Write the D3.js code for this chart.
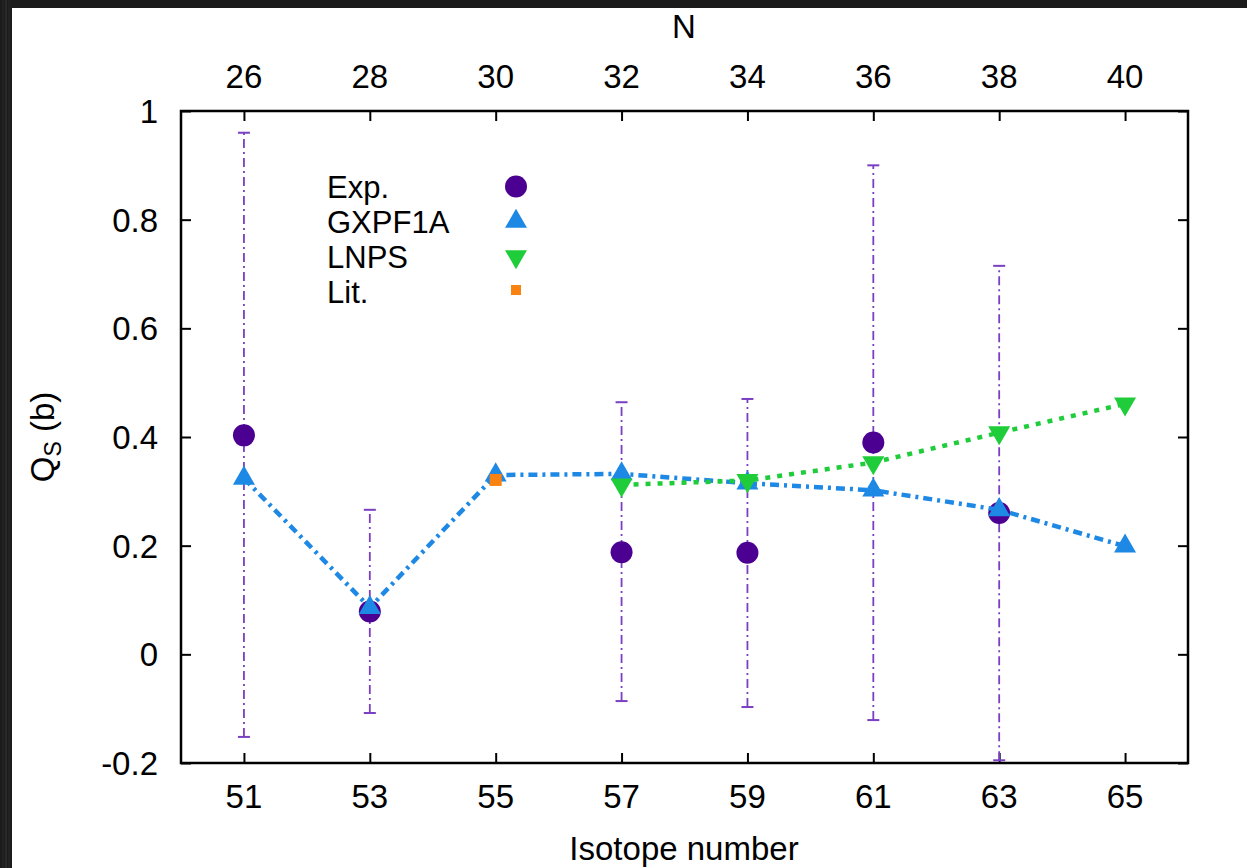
<!DOCTYPE html>
<html>
<head>
<meta charset="utf-8">
<script src="https://cdn.jsdelivr.net/npm/d3@7"></script>
<style>
  body { margin: 0; background: #111; }
  svg text { font-family: "Liberation Sans", Arial, Helvetica, sans-serif; fill: #000; }
</style>
</head>
<body>
<svg id="chart" width="1247" height="868"></svg>
<script>
"use strict";

// isotope numbers on the bottom axis, neutron numbers on the top axis
var isotopeTicks = [51, 53, 55, 57, 59, 61, 63, 65];
var neutronLabels = ["26", "28", "30", "32", "34", "36", "38", "40"];
var yTicks = [-0.2, 0, 0.2, 0.4, 0.6, 0.8, 1];
var yTickLabels = ["-0.2", "0", "0.2", "0.4", "0.6", "0.8", "1"];

// experiment with error bars
var expA = [51, 53, 57, 59, 61, 63];
var expQ = [0.403, 0.079, 0.188, 0.187, 0.390, 0.260];
var expLow = [-0.152, -0.108, -0.086, -0.097, -0.121, -0.195];
var expHigh = [0.960, 0.266, 0.464, 0.470, 0.900, 0.715];

// shell-model calculations
var gxpfA = [51, 53, 55, 57, 59, 61, 63, 65];
var gxpfQ = [0.324, 0.086, 0.330, 0.332, 0.315, 0.302, 0.266, 0.199];
var lnpsA = [57, 59, 61, 63, 65];
var lnpsQ = [0.312, 0.320, 0.353, 0.408, 0.461];
var litA = [55];
var litQ = [0.321];

var legendNames = ["Exp.", "GXPF1A", "LNPS", "Lit."];

var colExp = "#4b0092", colErr = "#7a3fc2", colGx = "#1e88e5", colLn = "#1fcc3a", colLit = "#f98210";

var svg = d3.select("#chart");

// dark border like the photo, white page
svg.append("rect").attr("width", 1247).attr("height", 868).attr("fill", "#1b1b1b");
[3, 6, 9].forEach(function(xx, i) {
  svg.append("line").attr("x1", xx).attr("x2", xx).attr("y1", 0).attr("y2", 868)
     .attr("stroke", i === 1 ? "#3a3a3a" : "#2a2a2a").attr("stroke-width", 1);
});
svg.append("rect").attr("x", 12).attr("y", 8).attr("width", 1235).attr("height", 860).attr("fill", "#fff");

var pLeft = 181, pTop = 111, pRight = 1188, pBottom = 763;

var x = d3.scaleLinear().domain([50, 66]).range([pLeft, pRight]);
var y = d3.scaleLinear().domain([-0.2, 1]).range([pBottom, pTop]);

var g = svg.append("g");

// ticks (inward)
var xAxisBottom = d3.axisTop(x).tickValues(isotopeTicks).tickSize(10).tickFormat("");
var xAxisTop = d3.axisBottom(x).tickValues(isotopeTicks).tickSize(10).tickFormat("");
var yAxisLeft = d3.axisRight(y).tickValues(yTicks).tickSize(10).tickFormat("");
var yAxisRight = d3.axisLeft(y).tickValues(yTicks).tickSize(10).tickFormat("");

g.append("g").attr("transform", "translate(0," + pBottom + ")").call(xAxisBottom);
g.append("g").attr("transform", "translate(0," + pTop + ")").call(xAxisTop);
g.append("g").attr("transform", "translate(" + pLeft + ",0)").call(yAxisLeft);
g.append("g").attr("transform", "translate(" + pRight + ",0)").call(yAxisRight);
g.selectAll(".domain").remove();
g.selectAll(".tick line").attr("stroke", "#000").attr("stroke-width", 2);

g.append("rect")
    .attr("x", pLeft).attr("y", pTop)
    .attr("width", pRight - pLeft).attr("height", pBottom - pTop)
    .attr("fill", "none").attr("stroke", "#000").attr("stroke-width", 2.5);

// tick labels
svg.selectAll(".xlab")
    .data(isotopeTicks)
  .enter().append("text")
    .attr("x", function(d) { return x(d); })
    .attr("y", 808)
    .attr("text-anchor", "middle")
    .attr("font-size", 33)
    .text(function(d) { return d; });

svg.selectAll(".x2lab")
    .data(isotopeTicks)
  .enter().append("text")
    .attr("x", function(d) { return x(d); })
    .attr("y", 88)
    .attr("text-anchor", "middle")
    .attr("font-size", 33)
    .text(function(d, i) { return neutronLabels[i]; });

svg.selectAll(".ylab")
    .data(yTicks)
  .enter().append("text")
    .attr("x", 158)
    .attr("y", function(d) { return y(d); })
    .attr("dy", "0.36em")
    .attr("text-anchor", "end")
    .attr("font-size", 33)
    .text(function(d, i) { return yTickLabels[i]; });

// axis titles
svg.append("text").attr("x", 684).attr("y", 38).attr("text-anchor", "middle")
    .attr("font-size", 33).text("N");
svg.append("text").attr("x", 684).attr("y", 860).attr("text-anchor", "middle")
    .attr("font-size", 33).text("Isotope number");

var ylab = svg.append("text")
    .attr("transform", "translate(54,437) rotate(-90)")
    .attr("text-anchor", "middle")
    .attr("font-size", 33);
ylab.append("tspan").text("Q");
ylab.append("tspan").attr("font-size", 23).attr("dy", 7).text("S");
ylab.append("tspan").attr("dy", -7).text(" (b)");

var plot = svg.append("g");

// error bars
expA.forEach(function(a, i) {
  plot.append("line")
      .attr("x1", x(a)).attr("x2", x(a))
      .attr("y1", y(expLow[i])).attr("y2", y(expHigh[i]))
      .attr("stroke", colErr).attr("stroke-width", 1.8)
      .attr("stroke-dasharray", "9,4,2,4");
  [expLow[i], expHigh[i]].forEach(function(v) {
    plot.append("line")
        .attr("x1", x(a) - 6).attr("x2", x(a) + 6)
        .attr("y1", y(v)).attr("y2", y(v))
        .attr("stroke", colErr).attr("stroke-width", 2);
  });
});

plot.selectAll(".exp")
    .data(expA)
  .enter().append("circle")
    .attr("cx", function(d) { return x(d); })
    .attr("cy", function(d, i) { return y(expQ[i]); })
    .attr("r", 11)
    .attr("fill", colExp);

var tri = d3.symbol().type(d3.symbolTriangle).size(210);

// GXPF1A
var gxLine = d3.line()
    .x(function(d) { return x(d); })
    .y(function(d, i) { return y(gxpfQ[i]); });
plot.append("path")
    .datum(gxpfA)
    .attr("d", gxLine)
    .attr("fill", "none")
    .attr("stroke", colGx)
    .attr("stroke-width", 4.5)
    .attr("stroke-dasharray", "9,5,3,5");
plot.selectAll(".gx")
    .data(gxpfA)
  .enter().append("path")
    .attr("d", tri)
    .attr("transform", function(d, i) { return "translate(" + x(d) + "," + y(gxpfQ[i]) + ")"; })
    .attr("fill", colGx);

// LNPS
var lnLine = d3.line()
    .x(function(d) { return x(d); })
    .y(function(d, i) { return y(lnpsQ[i]); });
plot.append("path")
    .datum(lnpsA)
    .attr("d", lnLine)
    .attr("fill", "none")
    .attr("stroke", colLn)
    .attr("stroke-width", 4.5)
    .attr("stroke-dasharray", "5,7");
plot.selectAll(".ln")
    .data(lnpsA)
  .enter().append("path")
    .attr("d", tri)
    .attr("transform", function(d, i) { return "translate(" + x(d) + "," + y(lnpsQ[i]) + ") rotate(180)"; })
    .attr("fill", colLn);

// literature
plot.selectAll(".lit")
    .data(litA)
  .enter().append("rect")
    .attr("x", function(d) { return x(d) - 6; })
    .attr("y", function(d, i) { return y(litQ[i]) - 6; })
    .attr("width", 12).attr("height", 12)
    .attr("fill", colLit);

// legend
var legY = [186.5, 221.5, 256.5, 291.5];
var legend = svg.append("g");
legendNames.forEach(function(name, i) {
  legend.append("text")
      .attr("x", 327).attr("y", legY[i])
      .attr("dy", "0.36em")
      .attr("font-size", 31)
      .text(name);
});
legend.append("circle").attr("cx", 516).attr("cy", legY[0]).attr("r", 11).attr("fill", colExp);
legend.append("path").attr("d", tri).attr("transform", "translate(516," + legY[1] + ")").attr("fill", colGx);
legend.append("path").attr("d", tri).attr("transform", "translate(516," + legY[2] + ") rotate(180)").attr("fill", colLn);
legend.append("rect").attr("x", 511).attr("y", 285).attr("width", 10).attr("height", 10).attr("fill", colLit);
</script>
</body>
</html>
